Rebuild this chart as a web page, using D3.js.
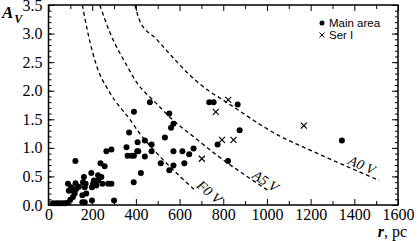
<!DOCTYPE html>
<html>
<head>
<meta charset="utf-8">
<script src="https://cdn.jsdelivr.net/npm/d3@7"></script>
<style>
    body { margin: 0; background: #fff; }
    svg { display: block; }
</style>
</head>
<body>
<script>
// main area stars: [r (pc), Av]
const mainArea = [
    [20, 0.03], [35, 0.03], [47, 0.03], [61, 0.03], [74, 0.03], [86, 0.04],
    [100, 0.09], [112, 0.14], [89, 0.37], [104, 0.31], [93, 0.25], [112, 0.25],
    [124, 0.38], [127, 0.28], [139, 0.32], [120, 0.20], [123, 0.77], [155, 0.05],
    [166, 0.05], [155, 0.17], [173, 0.20], [162, 0.49], [158, 0.40], [170, 0.37],
    [166, 0.31], [196, 0.56], [204, 0.37], [208, 0.43], [199, 0.31], [227, 0.52],
    [227, 0.43], [242, 0.49], [219, 0.34], [199, 0.08], [238, 0.73], [257, 0.68],
    [247, 0.37], [273, 0.37], [288, 0.37], [265, 0.94], [288, 0.97], [300, 0.08],
    [369, 1.27], [357, 1.01], [362, 0.86], [380, 0.86], [391, 0.86], [390, 0.40],
    [408, 1.10], [406, 0.94], [464, 1.80], [391, 1.63], [553, 1.60], [572, 1.42],
    [561, 1.35], [441, 1.13], [472, 1.06], [533, 1.18], [774, 1.06], [423, 0.56],
    [411, 0.94], [441, 0.85], [472, 0.94], [514, 0.73], [572, 0.94], [613, 0.94],
    [644, 0.89], [664, 0.99], [572, 0.69], [622, 0.73], [553, 0.61], [822, 0.77],
    [736, 1.80], [756, 1.80], [866, 1.76], [875, 1.31], [1343, 1.13]
];

// Ser I stars
const serI = [
    [766, 1.63], [823, 1.84], [794, 1.14], [847, 1.14], [702, 0.81], [1169, 1.39]
];

// limiting curves for the spectral types
const curveF0 = [[155, 3.5], [181, 3.0], [219, 2.45], [280, 1.97], [372, 1.5], [418, 1.25], [510, 0.85], [602, 0.5], [676, 0.24]];
const curveA5 = [[235, 3.5], [281, 3.02], [357, 2.45], [403, 2.15], [488, 1.8], [572, 1.48], [679, 1.15], [771, 0.87], [878, 0.58], [1007, 0.25]];
const curveA0 = [[396, 3.5], [418, 3.22], [495, 2.9], [572, 2.57], [648, 2.27], [725, 2.02], [794, 1.85], [1062, 1.2], [1192, 0.97], [1514, 0.43]];

const curves = [
    { name: "F0 V", points: curveF0, at: [737, 0.23], angle: 40 },
    { name: "A5 V", points: curveA5, at: [994, 0.42], angle: 33 },
    { name: "A0 V", points: curveA0, at: [1435, 0.70], angle: 24 }
];

const xMajor = d3.range(0, 1601, 200);
const xMinor = d3.range(100, 1600, 200);
const yMajor = d3.range(0, 3.51, 0.5);
const yMinor = d3.range(0, 3.51, 0.1);

const width = 418, height = 241;
const svg = d3.select("body").append("svg")
    .attr("width", width)
    .attr("height", height);

const x = d3.scaleLinear().domain([0, 1600]).range([48.5, 398]);
const y = d3.scaleLinear().domain([0, 3.5]).range([205, 5]);

const serif = "'Liberation Serif', 'Times New Roman', serif";
const sans = "'Liberation Sans', Arial, sans-serif";

svg.append("clipPath").attr("id", "plot")
    .append("rect")
    .attr("x", x(0)).attr("y", y(3.5))
    .attr("width", x(1600) - x(0)).attr("height", y(0) - y(3.5));

// axes with inward ticks
function styleAxis(g) {
    g.select(".domain").remove();
    g.selectAll("line").attr("stroke", "#000").attr("stroke-width", 1);
    g.selectAll("text").attr("font-family", serif).attr("font-size", "16px").attr("fill", "#000");
}

svg.append("g")
    .attr("transform", "translate(0," + y(0) + ")")
    .call(d3.axisBottom(x).tickValues(xMajor).tickSize(-6).tickPadding(4).tickFormat(d3.format("d")))
    .call(styleAxis);
svg.append("g")
    .attr("transform", "translate(0," + y(0) + ")")
    .call(d3.axisBottom(x).tickValues(xMinor).tickSize(-4).tickFormat(""))
    .call(styleAxis);
svg.append("g")
    .attr("transform", "translate(0," + y(3.5) + ")")
    .call(d3.axisTop(x).tickValues(xMajor).tickSize(-6).tickFormat(""))
    .call(styleAxis);
svg.append("g")
    .attr("transform", "translate(0," + y(3.5) + ")")
    .call(d3.axisTop(x).tickValues(xMinor).tickSize(-4).tickFormat(""))
    .call(styleAxis);

svg.append("g")
    .attr("transform", "translate(" + x(0) + ",0)")
    .call(d3.axisLeft(y).tickValues(yMajor).tickSize(-6).tickPadding(6).tickFormat(d3.format(".1f")))
    .call(styleAxis);
svg.append("g")
    .attr("transform", "translate(" + x(0) + ",0)")
    .call(d3.axisLeft(y).tickValues(yMinor).tickSize(-3).tickFormat(""))
    .call(styleAxis);
svg.append("g")
    .attr("transform", "translate(" + x(1600) + ",0)")
    .call(d3.axisRight(y).tickValues(yMajor).tickSize(-6).tickFormat(""))
    .call(styleAxis);
svg.append("g")
    .attr("transform", "translate(" + x(1600) + ",0)")
    .call(d3.axisRight(y).tickValues(yMinor).tickSize(-3).tickFormat(""))
    .call(styleAxis);

// frame
svg.append("rect")
    .attr("x", x(0)).attr("y", y(3.5))
    .attr("width", x(1600) - x(0)).attr("height", y(0) - y(3.5))
    .attr("fill", "none")
    .attr("stroke", "#000")
    .attr("stroke-width", 1.5);

// dashed curves
const line = d3.line()
    .x(d => x(d[0]))
    .y(d => y(d[1]))
    .curve(d3.curveMonotoneX);

svg.append("g").attr("clip-path", "url(#plot)")
    .selectAll("path")
    .data(curves)
    .enter().append("path")
    .attr("d", d => line(d.points))
    .attr("fill", "none")
    .attr("stroke", "#000")
    .attr("stroke-width", 1.3)
    .attr("stroke-dasharray", "4,3");

svg.selectAll(".curve-label")
    .data(curves)
    .enter().append("text")
    .attr("class", "curve-label")
    .attr("transform", d => "translate(" + x(d.at[0]) + "," + y(d.at[1]) + ") rotate(" + d.angle + ")")
    .attr("text-anchor", "middle")
    .attr("dy", "0.35em")
    .attr("font-family", serif)
    .attr("font-style", "italic")
    .attr("font-size", "14px")
    .text(d => d.name);

// points
svg.selectAll(".main")
    .data(mainArea)
    .enter().append("circle")
    .attr("class", "main")
    .attr("cx", d => x(d[0]))
    .attr("cy", d => y(d[1]))
    .attr("r", 3)
    .attr("fill", "#000");

svg.selectAll(".ser")
    .data(serI)
    .enter().append("path")
    .attr("class", "ser")
    .attr("transform", d => "translate(" + x(d[0]) + "," + y(d[1]) + ")")
    .attr("d", "M-3,-3L3,3M-3,3L3,-3")
    .attr("stroke", "#000")
    .attr("stroke-width", 1.2);

// axis titles
const yTitle = svg.append("text")
    .attr("x", 2)
    .attr("y", 18)
    .attr("font-family", serif)
    .attr("font-weight", "bold")
    .attr("font-style", "italic");
yTitle.append("tspan").attr("font-size", "17px").text("A");
yTitle.append("tspan").attr("font-size", "12px").attr("dy", 5).attr("dx", 1).text("V");

const xTitle = svg.append("text")
    .attr("x", 407)
    .attr("y", 237)
    .attr("text-anchor", "end")
    .attr("font-family", serif)
    .attr("font-size", "16px");
xTitle.append("tspan").attr("font-weight", "bold").attr("font-style", "italic").text("r");
xTitle.append("tspan").text(", pc");

// legend
const legend = svg.append("g")
    .attr("transform", "translate(322,23)");

legend.append("circle")
    .attr("cx", 0).attr("cy", 0).attr("r", 2.5).attr("fill", "#000");
legend.append("path")
    .attr("transform", "translate(0,12)")
    .attr("d", "M-2.5,-2.5L2.5,2.5M-2.5,2.5L2.5,-2.5")
    .attr("stroke", "#000")
    .attr("stroke-width", 1);

const legendItems = ["Main area", "Ser I"];
legend.selectAll("text")
    .data(legendItems)
    .enter().append("text")
    .attr("x", 7)
    .attr("y", (d, i) => i * 12)
    .attr("dy", "0.35em")
    .attr("font-family", sans)
    .attr("font-size", "11.5px")
    .text(d => d);
</script>
</body>
</html>
